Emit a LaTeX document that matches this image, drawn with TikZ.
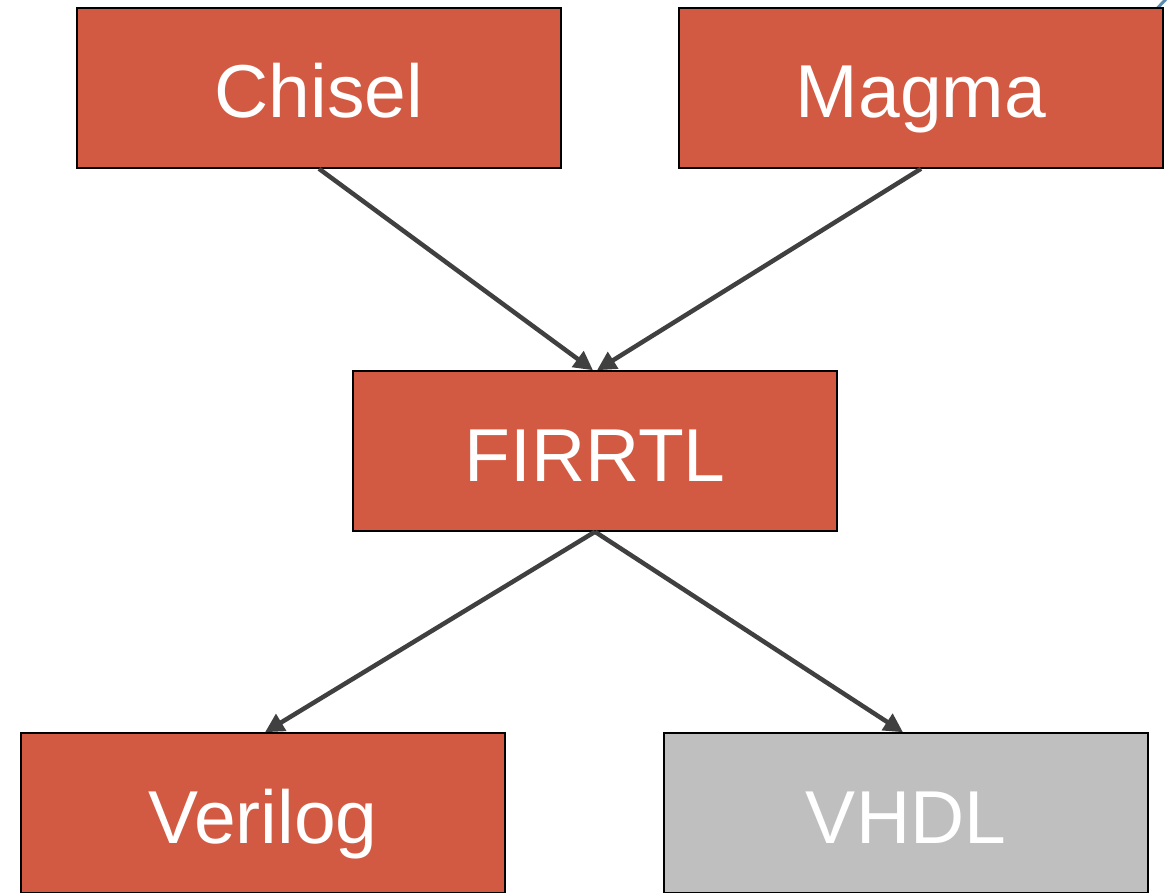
\documentclass[tikz,border=0pt]{standalone}
\usepackage{fontspec}
\setmainfont{Liberation Sans}
\usetikzlibrary{arrows.meta}
\definecolor{boxred}{HTML}{D35A42}
\definecolor{boxgrey}{HTML}{BFBFBF}
\definecolor{arrowgrey}{HTML}{404040}
\definecolor{accentblue}{HTML}{5B8BB0}
\tikzset{
  block/.style={draw=black, line width=1.5pt, fill=boxred, minimum width=484pt, minimum height=160pt,
    inner sep=0pt, text=white, font=\fontsize{75}{90}\selectfont, text height=70pt, text depth=10pt},
  greyblock/.style={block, fill=boxgrey},
  flow/.style={draw=arrowgrey, line width=4.5pt, -{Triangle[length=19pt, width=19pt]}}
}
\begin{document}
\begin{tikzpicture}[x=1pt, y=-1pt]
  \useasboundingbox (0,0) rectangle (1167,893);
  \fill[white] (0,0) rectangle (1167,893);
  \coordinate (bA) at (1148,18);
  \coordinate (bB) at (1168,-3);
  \draw[accentblue, line width=3pt] (bA) -- (bB);

  \node[block] (chisel) at (319,88) {Chisel};
  \node[block] (magma) at (921,88) {Magma};
  \node[block] (firrtl) at (595,451) {FIRRTL};
  \node[block] (verilog) at (263,813) {Verilog};
  \node[greyblock] (vhdl) at (906,813) {VHDL};

  \draw[flow] (chisel.south) -- ([xshift=-2pt]firrtl.north);
  \draw[flow] (magma.south) -- ([xshift=2pt]firrtl.north);
  \draw[flow] (firrtl.south) -- ([xshift=2pt]verilog.north);
  \draw[flow] (firrtl.south) -- ([xshift=-3pt]vhdl.north);
\end{tikzpicture}
\end{document}
